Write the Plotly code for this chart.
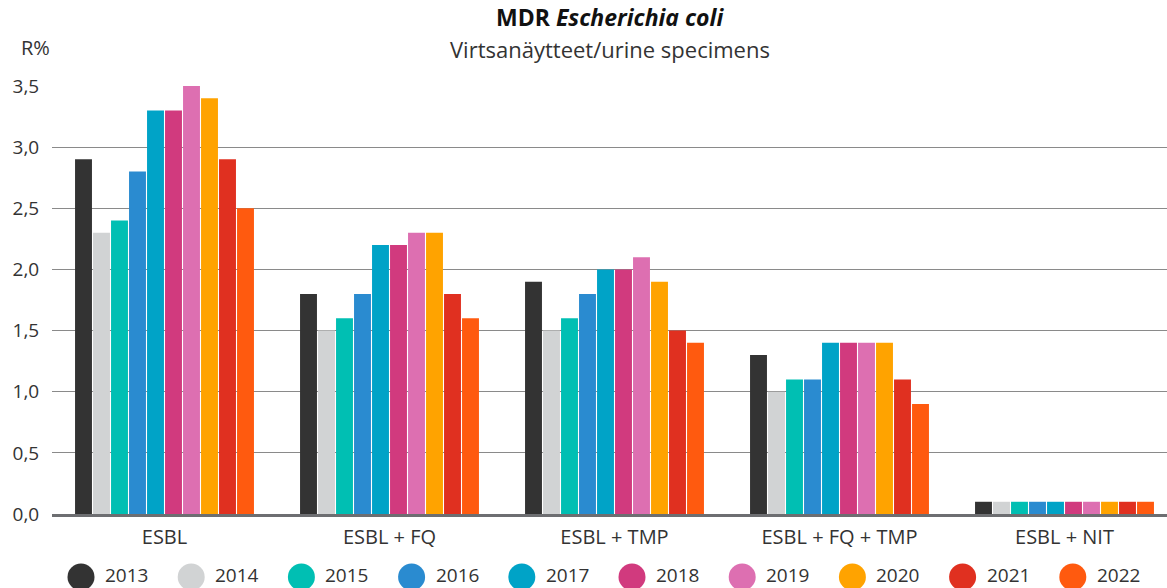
import plotly.graph_objects as go

categories = ["ESBL", "ESBL + FQ", "ESBL + TMP", "ESBL + FQ + TMP", "ESBL + NIT"]
years = ["2013", "2014", "2015", "2016", "2017", "2018", "2019", "2020", "2021", "2022"]
colors = ["#333333", "#d1d3d4", "#00bfb3", "#2a8bd0", "#00a3c7",
          "#d13a7e", "#dd6fb1", "#ffa300", "#e03020", "#ff5a0f"]
# values per year across categories
values = {
    "2013": [2.9, 1.8, 1.9, 1.3, 0.1],
    "2014": [2.3, 1.5, 1.5, 1.0, 0.1],
    "2015": [2.4, 1.6, 1.6, 1.1, 0.1],
    "2016": [2.8, 1.8, 1.8, 1.1, 0.1],
    "2017": [3.3, 2.2, 2.0, 1.4, 0.1],
    "2018": [3.3, 2.2, 2.0, 1.4, 0.1],
    "2019": [3.5, 2.3, 2.1, 1.4, 0.1],
    "2020": [3.4, 2.3, 1.9, 1.4, 0.1],
    "2021": [2.9, 1.8, 1.5, 1.1, 0.1],
    "2022": [2.5, 1.6, 1.4, 0.9, 0.1],
}
y_ticks = [0.0, 0.5, 1.0, 1.5, 2.0, 2.5, 3.0, 3.5]

FONT = "Open Sans"
TXT = "#333333"

fig = go.Figure()
for yr, col in zip(years, colors):
    fig.add_trace(go.Bar(
        x=categories, y=values[yr], name=yr, marker_color=col,
        marker_line_width=0, showlegend=False,
    ))

# manual legend with large circles
fig.add_trace(go.Scatter(
    x=list(range(len(years))), y=[0] * len(years), mode="markers",
    marker=dict(color=colors, size=27, symbol="circle"),
    xaxis="x2", yaxis="y2", showlegend=False, cliponaxis=False, hoverinfo="skip",
))
for i, yr in enumerate(years):
    fig.add_annotation(x=i, y=0, xref="x2", yref="y2", text=yr, showarrow=False,
                       xanchor="left", yanchor="middle", xshift=22, yshift=2,
                       font=dict(family=FONT, size=19, color=TXT))

H = 588
top = 86
plot_h = H - top
base_px = 514
ydom0 = (H - base_px) / plot_h

fig.update_layout(
    width=1167, height=588, autosize=False,
    margin=dict(l=52, r=0, t=top, b=0, autoexpand=False),
    paper_bgcolor="white", plot_bgcolor="white",
    barmode="group", bargap=0.2, bargroupgap=0.06,
    separators=", ",
    font=dict(family=FONT, color=TXT),
    xaxis=dict(
        domain=[0, 1], range=[-0.5, -0.5 + 1115 / 225], automargin=False,
        showgrid=False, showline=True, linecolor="#6d6e71", linewidth=3,
        ticks="outside", ticklen=3, tickcolor="rgba(0,0,0,0)",
        tickfont=dict(family=FONT, size=20, color=TXT), anchor="y",
    ),
    yaxis=dict(
        domain=[ydom0, 1], range=[0, 3.5], tickvals=y_ticks, tickformat=".1f",
        automargin=False,
        showgrid=True, gridcolor="#8a8a8a", gridwidth=1.3, zeroline=False,
        ticks="outside", ticklen=8, tickcolor="rgba(0,0,0,0)",
        tickfont=dict(family=FONT, size=19, color=TXT), anchor="x",
    ),
    xaxis2=dict(domain=[0, 1], range=[-(81 - 52) / 110.2, -(81 - 52) / 110.2 + 1115 / 110.2],
                visible=False, anchor="y2"),
    yaxis2=dict(domain=[0, 22 / plot_h], range=[-1, 1], visible=False, anchor="x2"),
)

fig.add_annotation(xref="paper", yref="paper", x=0.5, y=1 + (86 - 17) / plot_h,
                   text="<b>MDR <i>Escherichia coli</i></b>", showarrow=False,
                   xanchor="center", yanchor="middle",
                   font=dict(family=FONT, size=23, color="#111111"))
fig.add_annotation(xref="paper", yref="paper", x=0.5, y=1 + (86 - 49) / plot_h,
                   text="Virtsanäytteet/urine specimens", showarrow=False,
                   xanchor="center", yanchor="middle",
                   font=dict(family=FONT, size=22, color=TXT))
fig.add_annotation(xref="paper", yref="paper", x=(35 - 52) / 1115, y=1 + (86 - 47) / plot_h,
                   text="R%", showarrow=False, xanchor="center", yanchor="middle",
                   font=dict(family=FONT, size=20, color=TXT))

fig.write_html("out.html",
               config={"responsive": False, "displayModeBar": False},
               post_script="document.body.style.margin='0';document.body.style.overflow='hidden';")
